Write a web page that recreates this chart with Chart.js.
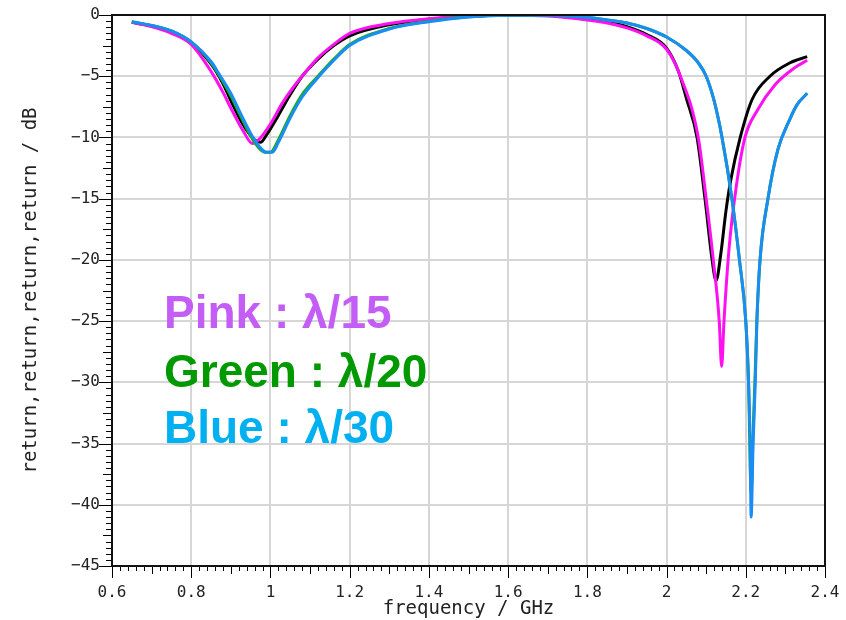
<!DOCTYPE html>
<html>
<head>
<meta charset="utf-8">
<script src="https://cdn.jsdelivr.net/npm/chart.js@4"></script>
<style>
  html, body { margin: 0; padding: 0; background: #fff; }
  #wrap { width: 846px; height: 620px; }
</style>
</head>
<body>
<div id="wrap"><canvas id="c" width="846" height="620"></canvas></div>
<script>
// ---- data (frequency in GHz, return loss in dB) ----
const freqBlack = [0.65,0.70,0.75,0.80,0.85,0.88,0.90,0.93,0.96,0.975,0.99,1.02,1.05,1.08,1.12,1.16,1.20,1.30,1.40,1.50,1.60,1.70,1.80,1.85,1.90,1.95,2.00,2.03,2.05,2.077,2.097,2.115,2.125,2.137,2.15,2.162,2.186,2.216,2.261,2.312,2.355];
const dbBlack   = [-0.6,-0.9,-1.4,-2.3,-4.0,-5.6,-7.0,-8.9,-10.2,-10.4,-9.8,-8.2,-6.5,-5.0,-3.6,-2.5,-1.7,-0.8,-0.35,-0.1,-0.02,-0.05,-0.3,-0.55,-0.95,-1.6,-2.7,-4.6,-6.8,-10,-15,-20,-21.7,-19.5,-16.0,-13.5,-10.0,-6.9,-5.0,-3.9,-3.4];

const freqPink = [0.65,0.70,0.75,0.80,0.85,0.88,0.90,0.93,0.955,0.97,1.00,1.03,1.06,1.08,1.12,1.16,1.20,1.30,1.40,1.50,1.60,1.70,1.80,1.85,1.90,1.95,2.00,2.035,2.08,2.10,2.118,2.133,2.139,2.145,2.158,2.176,2.198,2.229,2.274,2.324,2.355];
const dbPink   = [-0.6,-0.95,-1.5,-2.4,-4.6,-6.3,-7.6,-9.4,-10.5,-10.2,-8.9,-7.2,-5.8,-5.0,-3.5,-2.4,-1.5,-0.7,-0.3,-0.08,-0.02,-0.08,-0.4,-0.65,-1.05,-1.7,-2.8,-5,-10,-15,-20,-25,-28.7,-25,-19,-14,-10,-7.8,-5.7,-4.3,-3.7];

const freqGreen = [0.65,0.70,0.75,0.80,0.85,0.87,0.90,0.93,0.96,0.985,1.00,1.02,1.05,1.08,1.12,1.16,1.20,1.30,1.40,1.50,1.60,1.70,1.80,1.85,1.90,1.95,2.00,2.05,2.08,2.10,2.12,2.14,2.165,2.184,2.2,2.207,2.2135,2.2185,2.224,2.228,2.236,2.256,2.281,2.31,2.33,2.355];
const dbGreen   = [-0.55,-0.85,-1.3,-2.2,-3.9,-4.9,-6.6,-8.6,-10.4,-11.2,-11.2,-10.2,-8.2,-6.5,-5.0,-3.6,-2.4,-1.1,-0.5,-0.15,-0.03,-0.02,-0.2,-0.4,-0.65,-1.1,-1.8,-2.9,-3.9,-5.0,-7.0,-10,-15,-20,-25,-30,-39,-34,-29,-25,-20,-15,-11,-8.6,-7.3,-6.4];

const freqBlue = [0.65,0.70,0.75,0.80,0.85,0.87,0.90,0.93,0.96,0.99,1.005,1.02,1.05,1.08,1.12,1.16,1.20,1.30,1.40,1.50,1.60,1.70,1.80,1.85,1.90,1.95,2.00,2.05,2.08,2.10,2.12,2.14,2.165,2.184,2.2,2.207,2.211,2.2135,2.2185,2.224,2.228,2.236,2.256,2.281,2.31,2.33,2.355];
const dbBlue   = [-0.55,-0.85,-1.3,-2.2,-3.8,-4.8,-6.4,-8.4,-10.2,-11.2,-11.2,-10.4,-8.4,-6.7,-5.1,-3.7,-2.5,-1.15,-0.55,-0.17,-0.03,-0.02,-0.2,-0.4,-0.65,-1.1,-1.8,-2.9,-3.9,-5.0,-7.0,-10,-15,-20,-25,-30,-35,-41,-35,-30,-25,-20,-15,-11,-8.6,-7.3,-6.4];

const xTickLabels = ['0.6','0.8','1','1.2','1.4','1.6','1.8','2','2.2','2.4'];
const yTickValues = [0,-5,-10,-15,-20,-25,-30,-35,-40,-45];

const legendLines = ['Pink : λ/15', 'Green : λ/20', 'Blue : λ/30'];
const legendColors = ['#c45cf6', '#009900', '#00b0f0'];

function pts(xs, ys) { return xs.map((x, i) => ({ x: x, y: ys[i] })); }

const monoFont = "'DejaVu Sans Mono', 'Liberation Mono', monospace";

const decorPlugin = {
  id: 'decor',
  afterDatasetsDraw(chart) {
    const ctx = chart.ctx;
    const a = chart.chartArea;
    ctx.save();
    ctx.font = "bold 46px 'Liberation Sans', Arial, sans-serif";
    ctx.textBaseline = 'alphabetic';
    ctx.textAlign = 'left';
    const base = [313, 372, 428];
    legendLines.forEach((t, i) => {
      ctx.fillStyle = legendColors[i];
      ctx.fillText(t, a.left + 52, a.top + base[i]);
    });
    ctx.restore();
  },
  afterDraw(chart) {
    const ctx = chart.ctx;
    const a = chart.chartArea;
    const xs = chart.scales.x, ys = chart.scales.y;
    ctx.save();
    ctx.strokeStyle = '#000';
    ctx.lineWidth = 1;
    for (let k = 0; k <= 90; k++) {
      const v = -k * 0.5;
      const py = Math.round(ys.getPixelForValue(v)) + 0.5;
      let len = 6;
      if (k % 10 === 0) len = 13; else if (k % 5 === 0) len = 9;
      ctx.beginPath();
      ctx.moveTo(a.left, py);
      ctx.lineTo(a.left - len, py);
      ctx.stroke();
    }
    for (let k = 0; k <= 90; k++) {
      const f = 0.6 + k * 0.02;
      const px = Math.round(xs.getPixelForValue(f)) + 0.5;
      let len = 5;
      if (k % 10 === 0) len = 12; else if (k % 5 === 0) len = 8;
      ctx.beginPath();
      ctx.moveTo(px, a.bottom);
      ctx.lineTo(px, a.bottom + len);
      ctx.stroke();
    }
    ctx.lineWidth = 2;
    ctx.strokeStyle = '#111';
    ctx.strokeRect(a.left, a.top, a.right - a.left, a.bottom - a.top);
    ctx.restore();
  }
};

new Chart(document.getElementById('c'), {
  type: 'line',
  data: {
    datasets: [
      { label: 'blue',  data: pts(freqBlue, dbBlue),   borderColor: '#1a8cf5', order: 0 },
      { label: 'green', data: pts(freqGreen, dbGreen), borderColor: '#12b012', order: 1 },
      { label: 'pink',  data: pts(freqPink, dbPink),   borderColor: '#ff10f0', order: 2 },
      { label: 'black', data: pts(freqBlack, dbBlack), borderColor: '#000000', order: 3 }
    ]
  },
  options: {
    responsive: false,
    animation: false,
    devicePixelRatio: 1,
    elements: {
      point: { radius: 0 },
      line: { borderWidth: 3, cubicInterpolationMode: 'monotone', fill: false }
    },
    layout: { padding: { top: 15, right: 21, left: 0, bottom: 0 } },
    plugins: { legend: { display: false }, tooltip: { enabled: false } },
    scales: {
      x: {
        type: 'linear',
        min: 0.6, max: 2.4,
        afterFit(s) { s.height = 54; s.paddingLeft = 0; s.paddingRight = 0; },
        afterBuildTicks(s) { s.ticks = xTickLabels.map(t => ({ value: parseFloat(t) })); },
        ticks: {
          callback: (v, i) => xTickLabels[i],
          font: { family: monoFont, size: 16 },
          color: '#222',
          padding: 17,
          maxRotation: 0,
          autoSkip: false
        },
        grid: { color: '#d6d6d6', lineWidth: 2, drawTicks: false },
        border: { display: false },
        title: {
          display: true,
          text: 'frequency / GHz',
          font: { family: monoFont, size: 19 },
          color: '#222',
          padding: { top: -5, bottom: 0 }
        }
      },
      y: {
        type: 'linear',
        min: -45, max: 0,
        afterFit(s) { s.width = 112; s.paddingTop = 0; s.paddingBottom = 0; },
        afterBuildTicks(s) { s.ticks = yTickValues.map(v => ({ value: v })); },
        ticks: {
          callback: v => (v === 0 ? '0' : '\u2212' + Math.abs(v)),
          font: { family: monoFont, size: 16 },
          color: '#222',
          padding: 12,
          autoSkip: false
        },
        grid: { color: '#d6d6d6', lineWidth: 2, drawTicks: false },
        border: { display: false },
        title: {
          display: true,
          text: 'return,return,return,return / dB',
          font: { family: monoFont, size: 19 },
          color: '#222',
          padding: { top: 20, bottom: 0 }
        }
      }
    }
  },
  plugins: [decorPlugin]
});
</script>
</body>
</html>
